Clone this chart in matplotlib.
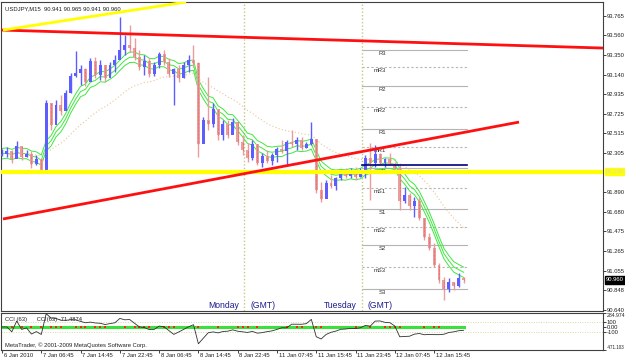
import matplotlib
matplotlib.use("Agg")
import matplotlib.pyplot as plt
import matplotlib.transforms as mtransforms
from matplotlib import font_manager
import numpy as np
import pandas as pd


def has_font(name):
    try:
        font_manager.findfont(name, fallback_to_default=False)
        return True
    except ValueError:
        return False


# MetaTrader uses a narrow pixel font, take the narrowest one we have
if has_font('Liberation Sans Narrow'):
    plt.rcParams['font.family'] = ['Liberation Sans Narrow', 'DejaVu Sans']
    FS = 5.0
else:
    plt.rcParams['font.family'] = ['Liberation Sans', 'DejaVu Sans']
    FS = 4.2

# USDJPY M15 screenshot, read back as hourly candles (high, low, close)
highs = [92.350, 92.371, 92.339, 92.435, 92.361, 92.339, 92.329, 92.286, 92.254, 92.870,
         92.817, 92.870, 92.923, 92.976, 93.157, 93.390, 93.242, 93.210, 93.316, 93.327,
         93.295, 93.221, 93.274, 93.348, 93.751, 93.560, 93.667, 93.529, 93.401, 93.348,
         93.316, 93.274, 93.380, 93.401, 93.316, 93.210, 93.242, 93.274, 93.348, 93.454,
         93.274, 92.690, 93.114, 92.838, 92.690, 92.658, 92.658, 92.679, 92.584, 92.499,
         92.414, 92.445, 92.361, 92.307, 92.339, 92.307, 92.371, 92.445, 92.445, 92.552,
         92.477, 92.477, 92.424, 92.637, 92.445, 92.000, 92.021, 92.074, 92.053, 92.127,
         92.148, 92.148, 92.159, 92.148, 92.286, 92.414, 92.392, 92.307, 92.254, 92.307,
         92.212, 92.180, 91.946, 91.883, 91.840, 91.840, 91.596, 91.458, 91.352, 91.140,
         90.991, 90.980, 90.938, 91.033, 90.991]
lows = [92.276, 92.265, 92.201, 92.307, 92.233, 92.265, 92.148, 92.180, 92.106, 92.180,
        92.552, 92.658, 92.711, 92.764, 92.945, 93.114, 93.029, 93.019, 93.083, 93.104,
        93.083, 93.061, 93.136, 93.168, 93.327, 93.348, 93.380, 93.295, 93.189, 93.136,
        93.114, 93.125, 93.210, 93.242, 93.114, 92.817, 93.061, 93.104, 93.168, 93.221,
        92.265, 92.414, 92.552, 92.584, 92.445, 92.445, 92.467, 92.552, 92.392, 92.286,
        92.212, 92.233, 92.180, 92.159, 92.201, 92.180, 92.212, 92.307, 92.180, 92.371,
        92.339, 92.339, 92.361, 92.392, 91.883, 91.787, 91.840, 91.936, 91.915, 92.021,
        92.042, 92.042, 92.021, 92.053, 92.042, 91.808, 92.159, 92.180, 92.159, 92.180,
        92.106, 91.702, 91.777, 91.702, 91.628, 91.596, 91.384, 91.278, 91.097, 90.927,
        90.747, 90.832, 90.853, 90.885, 90.927]
closes = [92.30, 92.33, 92.24, 92.38, 92.27, 92.30, 92.19, 92.24, 92.13, 92.84,
          92.60, 92.82, 92.75, 92.94, 93.12, 93.16, 93.20, 93.06, 93.28, 93.14,
          93.24, 93.10, 93.24, 93.30, 93.40, 93.45, 93.42, 93.33, 93.22, 93.28,
          93.15, 93.24, 93.36, 93.27, 93.15, 93.20, 93.10, 93.24, 93.30, 93.26,
          92.40, 92.66, 92.62, 92.78, 92.50, 92.62, 92.50, 92.64, 92.42, 92.34,
          92.25, 92.40, 92.20, 92.28, 92.22, 92.29, 92.35, 92.33, 92.42, 92.40,
          92.45, 92.36, 92.40, 92.46, 91.92, 91.82, 91.99, 91.96, 92.04, 92.10,
          92.06, 92.13, 92.05, 92.12, 92.25, 92.20, 92.30, 92.20, 92.24, 92.19,
          92.15, 91.80, 91.86, 91.74, 91.80, 91.62, 91.42, 91.30, 91.12, 90.96,
          90.86, 90.94, 90.90, 90.98, 90.960]
first_open = 92.28

time_labels = ['6 Jan 2010', '7 Jan 06:45', '7 Jan 14:45', '7 Jan 22:45', '8 Jan 06:45',
               '8 Jan 14:45', '8 Jan 22:45', '11 Jan 07:45', '11 Jan 15:45', '11 Jan 23:45',
               '12 Jan 07:45', '12 Jan 15:45']
time_label_pos = [0, 8, 16, 24, 32, 40, 48, 56, 64, 72, 80, 88]

price_ticks = [93.765, 93.560, 93.350, 93.140, 92.935, 92.725, 92.515, 92.305,
               91.890, 91.680, 91.475, 91.265, 91.055, 90.848, 90.640]
last_price = 90.960

cci_ticks = [284.974, 100, 0, -100, -471.103]
cci_tick_labels = ['284.974', '100', '0.00', '-100', '-471.103']

pivot_names = ['R3', 'mR3', 'R2', 'mR2', 'R1', 'mR1', 'PP', 'mS1', 'S1', 'mS2', 'S2', 'mS3', 'S3']
pivot_prices = [93.401, 93.220, 93.018, 92.795, 92.562, 92.371, 92.150,
                91.935, 91.712, 91.521, 91.330, 91.097, 90.863]
pivot_from, pivot_to = 73.3, 94.7
day_open = 92.180

support_level = 92.110
red_top_x, red_top_y = [-0.1, 122.4], [93.613, 93.422]
red_up_x, red_up_y = [0.2, 105.3], [91.607, 92.636]
yellow_up_x, yellow_up_y = [0.2, 37.5], [93.613, 93.911]
session_starts = [49.3, 73.3]
session_names = ['Monday', 'Tuesday']

W, H = 625, 363
fig = plt.figure(figsize=(W / 100, H / 100), dpi=100)
fig.patch.set_facecolor('white')


def px_axes(x0, y0, x1, y1):
    return fig.add_axes([x0 / W, 1 - y1 / H, (x1 - x0) / W, (y1 - y0) / H])


ax = px_axes(1.5, 2, 603, 311)
ax2 = px_axes(1.5, 313, 603, 350)
xlim = (-0.1, 122.4)
border = '#404040'
txt = '#202020'

x = np.arange(len(closes))
hi = np.array(highs)
lo = np.array(lows)
cl = np.array(closes)
op = np.r_[first_open, cl[:-1]]
up = cl >= op

# moving averages (green envelope + slow dotted one)
cs = pd.Series(cl)
ma_fast = cs.ewm(span=7, adjust=False).mean()
ma_slow = cs.ewm(span=24, adjust=False).mean()
for off in (0.055, 0.0, -0.055):
    ax.plot(x, ma_fast + off, color='#3ee83e', lw=0.7, zorder=2)
ax.plot(x, ma_slow, color='#e8c49a', lw=0.8, ls=(0, (1, 2)), zorder=2)

# candles
blue, pink = '#5c5cff', '#eb9c9c'
cols = np.where(up, blue, pink)
ax.vlines(x, lo, hi, colors=cols, lw=1.0, zorder=3)
body = np.maximum(np.abs(cl - op), 0.008)
ax.bar(x, body, bottom=np.minimum(op, cl), width=0.6, color=cols, lw=0, zorder=3)
ax.vlines(x[~up], np.minimum(op, cl)[~up], np.maximum(op, cl)[~up], colors='#e04848',
          lw=0.5, linestyles=(0, (1, 1)), zorder=3)

# pivot levels
for name, p in zip(pivot_names, pivot_prices):
    dotted = name.startswith('m')
    ax.plot([pivot_from, pivot_to], [p, p], color='#b4b4b4', lw=0.8,
            ls=(0, (2, 2)) if dotted else '-', zorder=1)
    ax.annotate(name, (78.2, p), xytext=(0, -1), textcoords='offset points',
                ha='right', va='top', fontsize=FS, color='#303030', zorder=1)
ax.plot([pivot_from, pivot_to], [day_open, day_open], color='#000080', lw=1.2, zorder=4)

# session separators
tr = mtransforms.blended_transform_factory(ax.transData, ax.transAxes)
for s, name in zip(session_starts, session_names):
    ax.axvline(s, color='#c8c880', lw=1.0, ls=(0, (1, 1.5)), zorder=1)
    ax.annotate(name, (s, 0), xycoords=tr, xytext=(-3.6, 1), textcoords='offset points',
                ha='right', va='bottom', fontsize=6.2, color='#1c1c8c')
    ax.annotate('(GMT)', (s, 0), xycoords=tr, xytext=(4.3, 1), textcoords='offset points',
                ha='left', va='bottom', fontsize=6.2, color='#1c1c8c')

# trend lines
ax.axhline(support_level, color='#ffff00', lw=3.0, zorder=5)
ax.plot(red_top_x, red_top_y, color='#ff1010', lw=2.0, zorder=5, solid_capstyle='butt')
ax.plot(red_up_x, red_up_y, color='#ff1010', lw=2.0, zorder=5, solid_capstyle='butt')
ax.plot(yellow_up_x, yellow_up_y, color='#ffff00', lw=2.0, zorder=5, solid_capstyle='butt')

ax.set_xlim(*xlim)
ax.set_ylim(90.630, 93.911)
ax.yaxis.tick_right()
ax.set_yticks(price_ticks)
ax.set_yticklabels([f'{p:.3f}' for p in price_ticks])
ax.set_xticks([])
ax.tick_params(axis='y', length=2, width=0.6, pad=0.8, labelsize=FS, colors=txt)
for sp in ax.spines.values():
    sp.set_color(border)
    sp.set_linewidth(0.8)

trY = mtransforms.blended_transform_factory(ax.transAxes, ax.transData)
ax.annotate(f'{last_price:.3f}', (1.0, last_price), xycoords=trY, xytext=(2.2, 0),
            textcoords='offset points', ha='left', va='center', fontsize=FS, color='white',
            bbox=dict(boxstyle='square,pad=0.2', fc='black', ec='black'), annotation_clip=False)
ax.annotate('92.100', (1.0, support_level), xycoords=trY, xytext=(2.2, 0),
            textcoords='offset points', ha='left', va='center', fontsize=FS, color='#d8d8d8',
            bbox=dict(boxstyle='square,pad=0.2', fc='#ffff00', ec='#ffff00'), annotation_clip=False)
ax.text(0.005, 0.985, 'USDJPY,M15  90.941 90.965 90.941 90.960', transform=ax.transAxes,
        ha='left', va='top', fontsize=FS, color=txt)

# CCI(63) on the hourly series
tp = (pd.Series(hi) + pd.Series(lo) + cs) / 3
n = 14
sma = tp.rolling(n, min_periods=3).mean()
mad = tp.rolling(n, min_periods=3).apply(lambda v: np.mean(np.abs(v - v.mean())), raw=True)
cci = ((tp - sma) / (0.015 * mad)).fillna(0)

ax2.axhline(100, color='#d8d8a8', lw=0.7, ls=(0, (1, 1.5)))
ax2.axhline(-100, color='#d8d8a8', lw=0.7, ls=(0, (1, 1.5)))
ax2.plot(x, np.zeros(len(x)), color='#3ce03c', lw=2.2, zorder=2)
falling = np.r_[False, np.diff(cci.values) < 0]
ax2.scatter(x[falling], np.zeros(falling.sum()), s=1.5, marker='s', color='#ff2020', lw=0, zorder=3)
ax2.plot(x, cci, color='#303030', lw=0.6, zorder=4)
ax2.set_xlim(*xlim)
ax2.set_ylim(-471.103, 284.974)
ax2.yaxis.tick_right()
ax2.set_yticks(cci_ticks)
ax2.set_yticklabels(cci_tick_labels)
ax2.tick_params(axis='y', length=2, width=0.6, pad=0.5, labelsize=FS, colors=txt)
ylabs = ax2.get_yticklabels()
ylabs[0].set_va('top')
ylabs[0].set_fontsize(FS * 0.88)
ylabs[-1].set_va('bottom')
ylabs[-1].set_fontsize(FS * 0.78)
ax2.set_xticks(time_label_pos)
ax2.set_xticklabels([])
ax2.tick_params(axis='x', length=2.5, width=0.6, colors=txt)
trX = mtransforms.blended_transform_factory(ax2.transData, ax2.transAxes)
for pos, lab in zip(time_label_pos, time_labels):
    ax2.annotate(lab, (pos, 0), xycoords=trX, xytext=(1.2, -2.3), textcoords='offset points',
                 ha='left', va='top', fontsize=FS, color=txt, annotation_clip=False)
for sp in ax2.spines.values():
    sp.set_color(border)
    sp.set_linewidth(0.8)
ax2.text(0.006, 0.9, 'CCI (63)      CCI(63) -71.4874', transform=ax2.transAxes,
         ha='left', va='top', fontsize=FS, color=txt)
ax2.text(0.006, 0.06, 'MetaTrader, \u00a9 2001-2009 MetaQuotes Software Corp.', transform=ax2.transAxes,
         ha='left', va='bottom', fontsize=FS, color=txt)

fig.savefig('out.png', dpi=100, facecolor='white')
